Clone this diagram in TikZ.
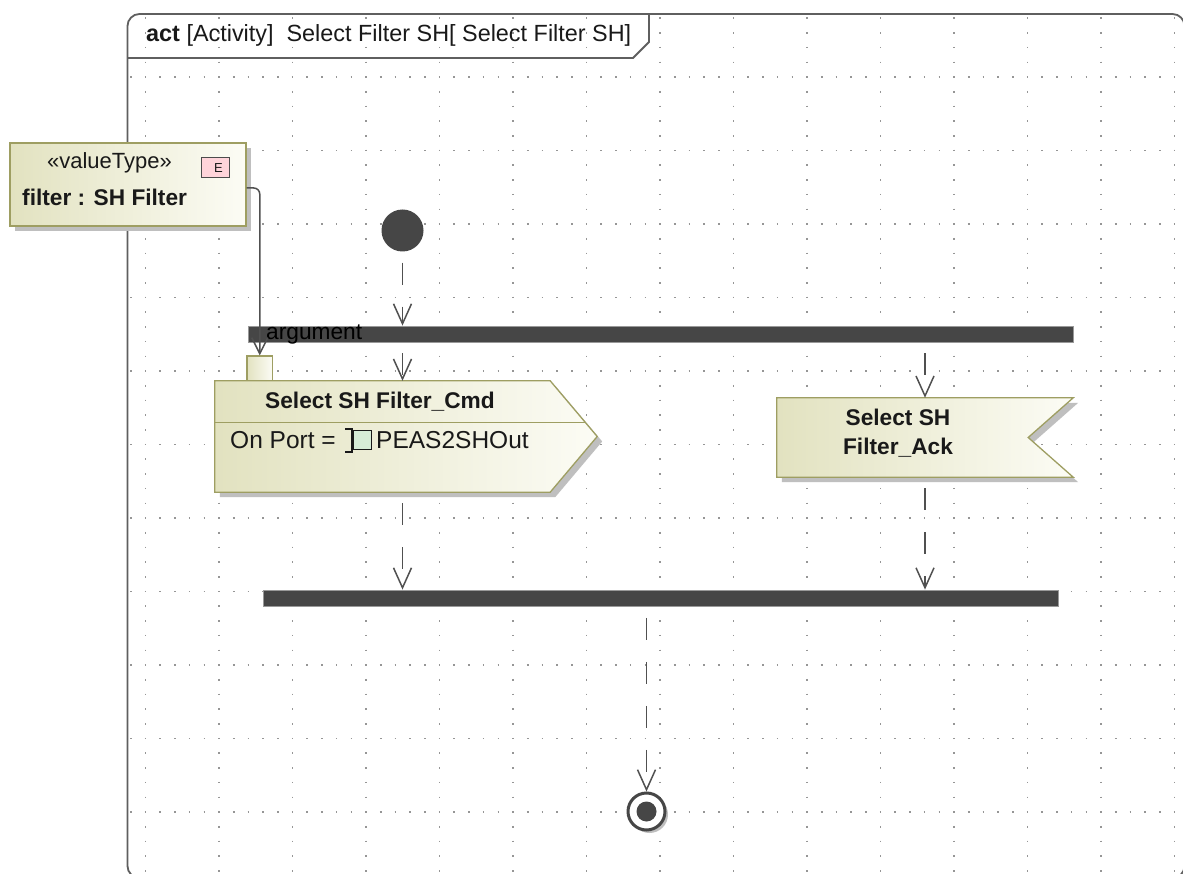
\documentclass[tikz,border=0pt]{standalone}
\usepackage{fontspec}
\setmainfont{Liberation Sans}
\usepackage{tikz}
\usetikzlibrary{arrows.meta,positioning,calc,shadows}
\usepackage{xcolor}
\definecolor{actdark}{RGB}{226,226,192}
\definecolor{actlight}{RGB}{252,252,245}
\definecolor{actedge}{RGB}{158,158,98}
\definecolor{barcol}{RGB}{70,70,70}
\definecolor{flowcol}{RGB}{80,80,80}
\definecolor{dotcol}{RGB}{150,150,150}
\definecolor{framecol}{RGB}{95,95,95}
\definecolor{epink}{RGB}{255,212,218}
\definecolor{portgreen}{RGB}{214,236,214}
\definecolor{inkcol}{RGB}{25,25,25}
\newcommand\hdrfont{\fontsize{23.4}{27}\selectfont}
\newcommand\bodyfont{\fontsize{24.5}{29}\selectfont}
\newcommand\boldfont{\fontsize{22.7}{29}\selectfont\bfseries}
\newcommand\stereofont{\fontsize{22}{26}\selectfont}
\tikzset{
  griddots/.style={draw=dotcol,line width=1.6pt,dash pattern=on 1.6pt off 13.1pt},
  framebox/.style={draw=framecol,line width=1.8pt,rounded corners=12pt},
  lbl/.style={inner sep=0pt,text=inkcol},
  shade1/.style={left color=actdark,right color=actlight},
  boxshadow/.style={drop shadow={shadow xshift=5pt,shadow yshift=-5pt,fill=black!25,opacity=1}},
  vtbox/.style={rectangle,draw=actedge,line width=1.3pt,shade1,boxshadow,inner sep=0pt},
  actbody/.style={rectangle,draw=none,inner sep=0pt},
  actshape/.style={draw=actedge,line width=1.3pt,shade1,boxshadow},
  pinbox/.style={rectangle,draw=actedge,line width=1.3pt,shade1,inner sep=0pt},
  eicon/.style={rectangle,draw=black!70,line width=1pt,fill=epink,inner sep=0pt,
                font=\fontsize{13}{13}\selectfont,text=inkcol},
  bar/.style={rectangle,fill=barcol,draw=black!40,line width=0.8pt,inner sep=0pt},
  startpt/.style={circle,fill=barcol,minimum size=42pt,inner sep=0pt},
  endpt/.style={circle,draw=barcol,line width=3pt,fill=white,minimum size=37pt,inner sep=0pt,
                drop shadow={shadow xshift=3pt,shadow yshift=-3pt,fill=black!25,opacity=1}},
  flow/.style={draw=flowcol,line width=1.5pt,dash pattern=on 22pt off 22pt,dash phase=33pt,
               -{Straight Barb[length=20pt,width=18pt]}},
  objflow/.style={draw=flowcol,line width=1.5pt,rounded corners=6pt,
                  -{Straight Barb[length=16pt,width=16pt]}},
}

\begin{document}
\begin{tikzpicture}[x=1pt,y=-1pt]
  \useasboundingbox (0,0) rectangle (1183,874);
  \fill[white] (0,0) rectangle (1183,874);
  % dotted grid
  \foreach \i in {0,...,14}
    {\draw[griddots] ({145.5+73.5*\i},17.45) -- ({145.5+73.5*\i},874);}
  \foreach \j in {0,...,10}
    {\draw[griddots] (130.05,{77+73.5*\j}) -- (1183,{77+73.5*\j});}
  % frame and header tab
  \draw[framebox] (127.5,14) rectangle (1184.5,878);
  \draw[framebox,rounded corners=0pt] (127.5,58) -- (633,58) -- (649,42) -- (649,14);
  \node[lbl,anchor=west,font=\hdrfont] (hdr) at (146,35)
    {\textbf{act} [Activity]\ \ Select Filter SH[ Select Filter SH]};
  % value type
  \node[vtbox,minimum width=236pt,minimum height=83pt] (vt) at (128,184.5) {};
  \node[lbl,font=\stereofont] (vtster) at (109.5,163) {«valueType»};
  \node[lbl,anchor=west,font=\boldfont] (vtname) at (22,197) {filter : SH Filter};
  \node[eicon,minimum width=28pt,minimum height=20pt] (vticon) at (215,168) {\hspace{7pt}E};
  % control nodes
  \node[startpt] (init) at (402.5,230.5) {};
  \node[bar,minimum width=825pt,minimum height=16pt] (fork) at (660.5,334) {};
  \node[lbl,anchor=base west,font=\fontsize{22.7}{27}\selectfont,text=black] (arglbl) at (266,340) {argument};
  \node[bar,minimum width=795pt,minimum height=16.5pt] (join) at (660.5,598.25) {};
  \node[endpt] (final) at (646.5,811.5) {};
  \fill[barcol] (final.center) circle (10);
  % send signal action
  \node[pinbox,minimum width=25.5pt,minimum height=25pt] (pin) at (259.75,368.5) {};
  \node[actbody,minimum width=335pt,minimum height=111pt] (cmd) at (382.5,436.5) {};
  \path[actshape] (cmd.north west) -- (cmd.north east) -- ([xshift=47pt]cmd.east)
    -- (cmd.south east) -- (cmd.south west) -- cycle;
  \draw[actedge,line width=1.2pt] ([yshift=-42pt]cmd.north west) -- ++(370.5,0);
  \node[lbl,font=\boldfont] (cmdtitle) at (380,402) {Select SH Filter\_Cmd};
  \node[lbl,anchor=west,font=\bodyfont] (cmdport) at (230,440) {On Port =};
  \draw[inkcol,line width=1.2pt] (345,429) -- (352,429) -- (352,452) -- (345,452);
  \draw[inkcol,line width=1pt,fill=portgreen] (353,430.5) rectangle (371.5,449.5);
  \node[lbl,anchor=west,font=\bodyfont] (cmdportname) at (376,440) {PEAS2SHOut};
  % accept event action
  \node[actbody,minimum width=296pt,minimum height=79pt] (ack) at (925,437.5) {};
  \path[actshape] (ack.north west) -- (ack.north east) -- ([xshift=-45pt]ack.east)
    -- (ack.south east) -- (ack.south west) -- cycle;
  \node[lbl,font=\boldfont,align=center] (acktitle) at (898,433.5) {Select SH\\Filter\_Ack};
  % flows
  \draw[flow] (init) -- (fork.north -| init);
  \draw[flow] (fork.south -| init) -- (cmd.north -| init);
  \draw[flow] (fork.south -| ack) -- (ack.north);
  \draw[flow] (cmd.south -| init) -- (join.north -| init);
  \draw[flow] (ack.south) -- (join.north -| ack);
  \draw[flow] (join.south -| final) -- (final);
  \draw[objflow] ([yshift=-3.5pt]vt.east) -| (pin.north);
\end{tikzpicture}
\end{document}
